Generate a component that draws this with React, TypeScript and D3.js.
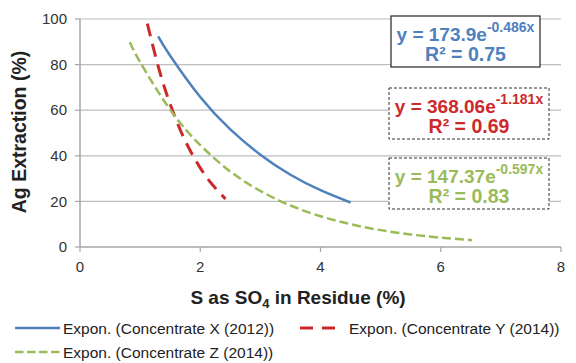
import React from "react";
import * as d3 from "d3";

const xTicks = [0, 2, 4, 6, 8];
const yTicks = [0, 20, 40, 60, 80, 100];

const seriesXx = [1.3, 1.5, 2, 2.5, 3, 3.5, 4, 4.5];
const seriesXy = [92.4, 83.9, 65.8, 51.6, 40.5, 31.7, 24.9, 19.5];

const seriesYx = [1.12, 1.3, 1.5, 1.75, 2.0, 2.2, 2.42];
const seriesYy = [98.0, 79.3, 62.6, 46.6, 34.7, 27.4, 21.1];

const seriesZx = [0.83, 1.0, 1.5, 2, 2.5, 3, 3.5, 4, 4.5, 5, 5.5, 6, 6.52];
const seriesZy = [89.8, 81.1, 60.2, 44.7, 33.1, 24.6, 18.2, 13.5, 10.0, 7.4, 5.5, 4.1, 3.0];

const legendLabels = [
  "Expon. (Concentrate X (2012))",
  "Expon. (Concentrate Y (2014))",
  "Expon. (Concentrate Z (2014))",
];
const eqMain = ["y = 173.9e", "y = 368.06e", "y = 147.37e"];
const eqExp = ["-0.486x", "-1.181x", "-0.597x"];
const eqR2 = ["0.75", "0.69", "0.83"];

const BLUE = "#4F81BD";
const RED = "#CC2A2A";
const GREEN = "#9BBB59";
const FONT = "'Liberation Sans', Arial, sans-serif";

export default function App() {
  const x = d3.scaleLinear().domain([0, 8]).range([80, 561]);
  const y = d3.scaleLinear().domain([0, 100]).range([247, 19]);
  const line = d3
    .line<[number, number]>()
    .x((d) => x(d[0]))
    .y((d) => y(d[1]))
    .curve(d3.curveNatural);
  const mk = (xs: number[], ys: number[]) => xs.map((v, i) => [v, ys[i]] as [number, number]);

  const series = [
    { d: mk(seriesXx, seriesXy), color: BLUE, w: 2.5, dash: undefined as string | undefined },
    { d: mk(seriesYx, seriesYy), color: RED, w: 3, dash: "13,8" },
    { d: mk(seriesZx, seriesZy), color: GREEN, w: 2.5, dash: "9,4" },
  ];

  const boxes = [
    { x0: 391, y0: 16, x1: 540, y1: 67, dashed: false, color: BLUE },
    { x0: 389, y0: 88, x1: 549, y1: 139, dashed: true, color: RED },
    { x0: 389, y0: 158, x1: 549, y1: 209, dashed: true, color: GREEN },
  ];

  return (
    <svg width={576} height={363} style={{ position: "absolute", left: 0, top: 0 }} fontFamily={FONT}>
      <rect width={576} height={363} fill="#fff" />
      {yTicks.slice(1).map((t) => (
        <line key={t} x1={80} x2={561} y1={y(t)} y2={y(t)} stroke="#BEBEBE" strokeWidth={1.2} />
      ))}
      <line x1={80} x2={80} y1={19} y2={247} stroke="#A6A6A6" strokeWidth={1.5} />
      <line x1={80} x2={561} y1={247} y2={247} stroke="#A6A6A6" strokeWidth={1.5} />
      {yTicks.map((t) => (
        <g key={t}>
          <line x1={75} x2={80} y1={y(t)} y2={y(t)} stroke="#A6A6A6" strokeWidth={1.2} />
          <text x={67} y={y(t)} dy="0.35em" textAnchor="end" fontSize={15} fill="#333">
            {t}
          </text>
        </g>
      ))}
      {xTicks.map((t) => (
        <g key={t}>
          <line x1={x(t)} x2={x(t)} y1={247} y2={252} stroke="#A6A6A6" strokeWidth={1.2} />
          <text x={x(t)} y={272} textAnchor="middle" fontSize={15} fill="#333">
            {t}
          </text>
        </g>
      ))}
      <text
        transform="translate(26,132) rotate(-90)"
        textAnchor="middle"
        fontSize={19.5}
        fontWeight="bold"
        fill="#222"
      >
        Ag Extraction (%)
      </text>
      <text x={298} y={304} textAnchor="middle" fontSize={19} fontWeight="bold" fill="#222">
        S as SO
        <tspan fontSize={13} dy={4}>4</tspan>
        <tspan dy={-4}> in Residue (%)</tspan>
      </text>

      {series.map((s, i) => (
        <path
          key={i}
          d={line(s.d) || ""}
          fill="none"
          stroke={s.color}
          strokeWidth={s.w}
          strokeDasharray={s.dash}
        />
      ))}

      {boxes.map((b, i) => (
        <g key={i}>
          <rect
            x={b.x0}
            y={b.y0}
            width={b.x1 - b.x0}
            height={b.y1 - b.y0}
            fill="#fff"
            stroke={b.dashed ? "#333" : "#222"}
            strokeWidth={b.dashed ? 1 : 1.2}
            strokeDasharray={b.dashed ? "3,2" : undefined}
          />
          <text
            x={(b.x0 + b.x1) / 2}
            y={b.y0 + 25}
            textAnchor="middle"
            fontSize={19}
            fontWeight="bold"
            fill={b.color}
          >
            {eqMain[i]}
            <tspan fontSize={14} dy={-9}>{eqExp[i]}</tspan>
          </text>
          <text
            x={(b.x0 + b.x1) / 2}
            y={b.y0 + 45}
            textAnchor="middle"
            fontSize={19.5}
            fontWeight="bold"
            fill={b.color}
          >
            R² = {eqR2[i]}
          </text>
        </g>
      ))}

      <line x1={15} x2={60} y1={328} y2={328} stroke={BLUE} strokeWidth={2.5} />
      <text x={63} y={334} fontSize={15.5} fill="#222">{legendLabels[0]}</text>
      <line x1={300} x2={335} y1={328} y2={328} stroke={RED} strokeWidth={3} strokeDasharray="13,9" />
      <text x={349} y={334} fontSize={15.5} fill="#222">{legendLabels[1]}</text>
      <line x1={15} x2={60} y1={352} y2={352} stroke={GREEN} strokeWidth={2.5} strokeDasharray="8.5,3.5" />
      <text x={63} y={358} fontSize={15.5} fill="#222">{legendLabels[2]}</text>
    </svg>
  );
}
